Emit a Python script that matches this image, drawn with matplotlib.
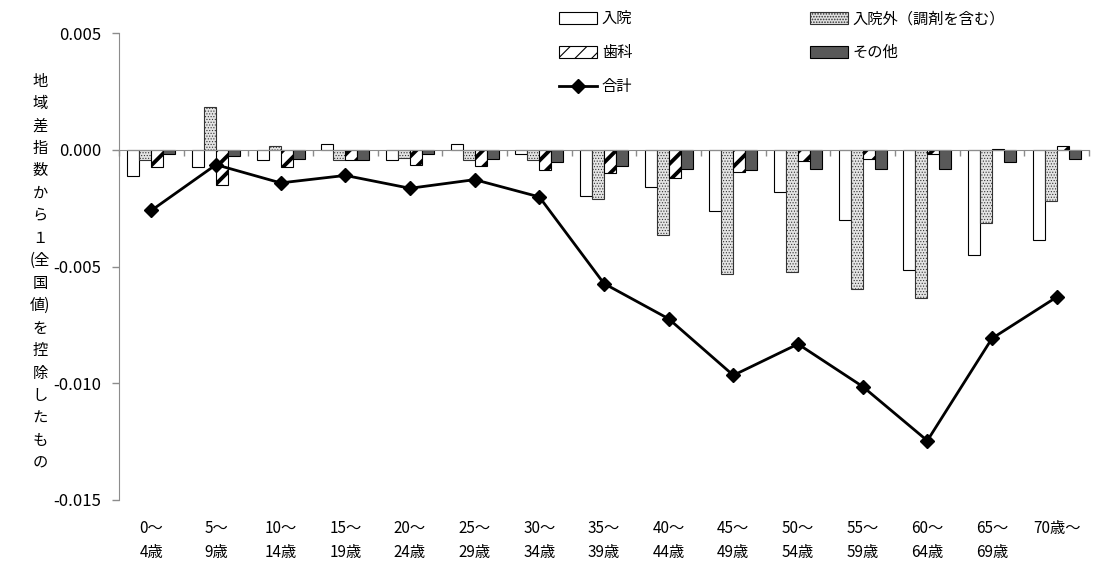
import matplotlib
matplotlib.use("Agg")
import matplotlib.pyplot as plt
import matplotlib.transforms as mtransforms
import numpy as np

plt.rcParams['font.family'] = ['Noto Sans CJK JP', 'DejaVu Sans']
plt.rcParams['hatch.linewidth'] = 0.8

categories_top = ["0～", "5～", "10～", "15～", "20～", "25～", "30～", "35～",
                  "40～", "45～", "50～", "55～", "60～", "65～", "70歳～"]
categories_bottom = ["4歳", "9歳", "14歳", "19歳", "24歳", "29歳", "34歳", "39歳",
                     "44歳", "49歳", "54歳", "59歳", "64歳", "69歳", ""]

nyuin = [-0.00111, -0.00074, -0.00044, 0.00024, -0.00044, 0.00024, -0.00020, -0.00197,
         -0.00160, -0.00264, -0.00182, -0.00299, -0.00513, -0.00452, -0.00385]
gairai = [-0.00046, 0.00182, 0.00017, -0.00046, -0.00036, -0.00043, -0.00046, -0.00210,
          -0.00366, -0.00531, -0.00524, -0.00598, -0.00634, -0.00313, -0.00221]
shika = [-0.00075, -0.00150, -0.00075, -0.00046, -0.00064, -0.00068, -0.00088, -0.00100,
         -0.00122, -0.00094, -0.00050, -0.00040, -0.00018, 0.00004, 0.00017]
sonota = [-0.00020, -0.00026, -0.00040, -0.00046, -0.00018, -0.00038, -0.00051, -0.00068,
          -0.00081, -0.00088, -0.00081, -0.00081, -0.00081, -0.00053, -0.00040]
total = [-0.00260, -0.00064, -0.00142, -0.00110, -0.00165, -0.00128, -0.00202, -0.00573,
         -0.00724, -0.00966, -0.00832, -0.01014, -0.01246, -0.00808, -0.00631]

ylabel_rows = ["地", "域", "差", "指", "数", "か", "ら", "１", "(全", "国", "値)", "を",
               "控", "除", "し", "た", "も", "の"]

fig = plt.figure(figsize=(10.98, 5.71), dpi=100)
ax = fig.add_axes([119/1098, 1-500/571, (1089-119)/1098, (500-33)/571])

x = np.arange(len(categories_top))
w = 0.185
gray_axis = '#8c8c8c'

def set_hlw(bars, lw):
    for b in bars:
        try:
            b.set_hatch_linewidth(lw)
        except AttributeError:
            pass

b1 = ax.bar(x - 1.5*w, nyuin, w, facecolor='white', edgecolor='black', linewidth=0.8,
            label='入院', zorder=2)
b2 = ax.bar(x - 0.5*w, gairai, w, facecolor='#e4e4e4', edgecolor='#333333', linewidth=0.8,
            hatch='......', label='入院外（調剤を含む）', zorder=2)
set_hlw(b2, 0.5)
b3 = ax.bar(x + 0.5*w, shika, w, facecolor='white', edgecolor='black', linewidth=0.8,
            hatch='//', label='歯科', zorder=2)
set_hlw(b3, 2.8)
b4 = ax.bar(x + 1.5*w, sonota, w, facecolor='#595959', edgecolor='black', linewidth=0.8,
            label='その他', zorder=2)
ln, = ax.plot(x, total, color='black', linewidth=2.0, marker='D', markersize=7,
              label='合計', zorder=4)

ax.set_xlim(-0.5, len(categories_top) - 0.5)
ax.set_ylim(-0.015, 0.005)
ax.set_yticks([0.005, 0.0, -0.005, -0.010, -0.015])
ax.set_yticklabels(["0.005", "0.000", "-0.005", "-0.010", "-0.015"])
ax.tick_params(axis='y', length=5, color=gray_axis, width=1, labelsize=12, pad=8)

ax.spines['top'].set_visible(False)
ax.spines['right'].set_visible(False)
ax.spines['left'].set_color(gray_axis)
ax.spines['bottom'].set_position(('data', 0))
ax.spines['bottom'].set_color(gray_axis)
ax.spines['bottom'].set_zorder(3)
ax.set_xticks(np.arange(len(categories_top) + 1) - 0.5)
ax.tick_params(axis='x', length=4, color=gray_axis, width=1, labelbottom=False)

trans = mtransforms.blended_transform_factory(ax.transData, ax.transAxes)
for i, (t, b) in enumerate(zip(categories_top, categories_bottom)):
    ax.text(i, -0.043, t + "\n" + b, transform=trans, ha='center', va='top',
            fontsize=11, linespacing=1.5)

fig.text(40/1098, 1-272/571, "\n".join(ylabel_rows), ha='center', va='center',
         fontsize=11, linespacing=1.42)

handles = [b1, b3, ln, b2, b4]
labels = ['入院', '歯科', '合計', '入院外（調剤を含む）', 'その他']
leg = fig.legend(handles, labels, ncol=2, loc='upper left',
                 bbox_to_anchor=(553/1098, 1-4/571), frameon=False, fontsize=11,
                 handlelength=2.5, handleheight=0.8, handletextpad=0.3,
                 labelspacing=1.12, columnspacing=11.6, borderaxespad=0)

fig.savefig("out.png", dpi=100)
